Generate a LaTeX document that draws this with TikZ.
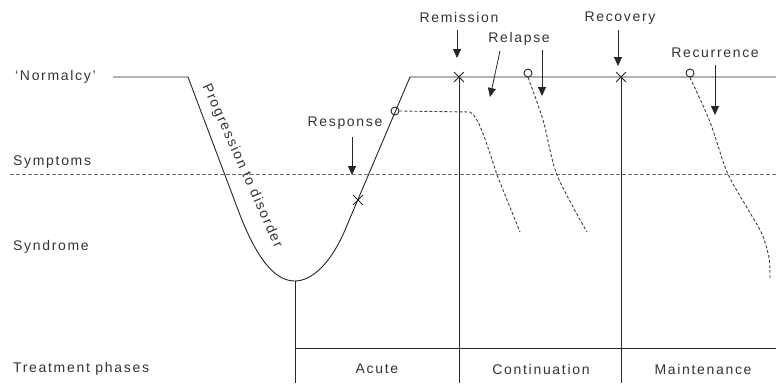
\documentclass[tikz,border=0pt]{standalone}
\usepackage{fontspec}
\setmainfont{Liberation Sans}[LetterSpace=12]
\usetikzlibrary{arrows.meta,shapes.misc}
\begin{document}
\begin{tikzpicture}[x=1pt,y=-1pt,
  lbl/.style={font=\fontsize{14}{16}\selectfont, text=black!80, inner sep=0pt},
  main/.style={line width=0.9pt, black!85},
  dsh/.style={line width=0.9pt, black!75, dash pattern=on 3pt off 2pt},
  sym/.style={line width=0.9pt, black!55, dash pattern=on 4pt off 2pt},
  pointer/.style={line width=0.8pt, black!85, -{Triangle[length=9pt,width=8pt]}},
  xmark/.style={cross out, draw=black!85, line width=0.9pt, minimum size=9pt, inner sep=0pt},
  omark/.style={circle, draw=black!85, line width=0.9pt, minimum size=8pt, inner sep=0pt}]
\useasboundingbox (0,0) rectangle (776,383);

% left labels
\node[lbl,anchor=west] (normalcy) at (15,77) {`Normalcy'};
\node[lbl,anchor=west] (symptoms) at (13,162) {Symptoms};
\node[lbl,anchor=west] (syndrome) at (13,247) {Syndrome};
\node[lbl,anchor=west] (phases) at (13,369) {Treatment phases};

% symptoms threshold
\coordinate (s0) at (10,174);
\coordinate (s1) at (776,174);
\draw[sym] (s0) -- (s1);

% main course
\coordinate (n0) at (113,77);
\coordinate (n1) at (188,77);
\coordinate (l1) at (240,215);
\coordinate (bot) at (295,281);
\coordinate (r1) at (345,230);
\coordinate (top) at (410,77);
\coordinate (n2) at (776,77);
\draw[main] (n0) -- (n1) -- (l1) .. controls (260,266) and (278,281) .. (bot)
  .. controls (312,281) and (331,263) .. (r1) -- (top) -- (n2);

% phase grid
\coordinate (b0) at (295,383);
\coordinate (h0) at (295,348);
\coordinate (h1) at (776,348);
\coordinate (v1t) at (459,77);
\coordinate (v1b) at (459,383);
\coordinate (v2t) at (621,77);
\coordinate (v2b) at (621,383);
\draw[main] (bot) -- (b0);
\draw[main] (h0) -- (h1);
\draw[main] (v1t) -- (v1b);
\draw[main] (v2t) -- (v2b);

\node[lbl] (acute) at (377,369) {Acute};
\node[lbl] (cont) at (541,369) {Continuation};
\node[lbl] (maint) at (703,369) {Maintenance};

% progression label
\node[lbl,rotate=-66] (prog) at (242,166) {Progression to disorder};

% marks
\node[xmark] (x1) at (358,200) {};
\node[xmark] (x2) at (459,77) {};
\node[xmark] (x3) at (621,77) {};
\node[omark] (o1) at (395,111) {};
\node[omark] (o2) at (528,73) {};
\node[omark] (o3) at (690,73) {};

% dashed relapse/recurrence courses
\draw[dsh] (o1.east) -- (470,112) .. controls (478,116) and (485,138) .. (497,175) -- (520,232);
\draw[dsh] plot[smooth] coordinates {(o2.south) (543,120) (557,175) (587,232)};
\draw[dsh] plot[smooth] coordinates {(o3.south) (710,122) (727,172) (746,206) (762,234) (769,258) (770,278)};

% annotations
\node[lbl] (resp) at (345,123) {Response};
\node[lbl] (remis) at (459,17) {Remission};
\node[lbl] (recov) at (620,18) {Recovery};
\node[lbl] (relap) at (519,39) {Relapse};
\node[lbl] (recur) at (715,53) {Recurrence};

\coordinate (ta) at (352,175);
\coordinate (tb) at (457,58);
\coordinate (tc) at (618,66);
\coordinate (td) at (490,97);
\coordinate (te) at (542,96);
\coordinate (tf) at (715,115);
\draw[pointer] (352,137) -- (ta);
\draw[pointer] (457,30) -- (tb);
\draw[pointer] (618,30) -- (tc);
\draw[pointer] (500,51) -- (td);
\draw[pointer] (542,50) -- (te);
\draw[pointer] (715,65) -- (tf);
\end{tikzpicture}
\end{document}
